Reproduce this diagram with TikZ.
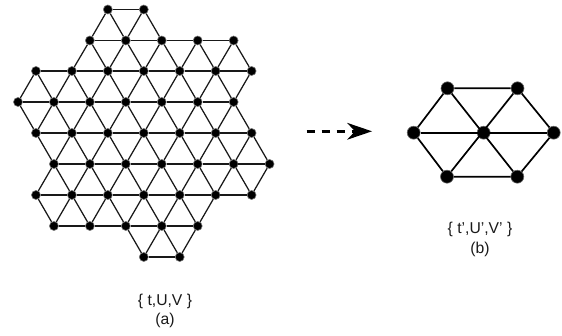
\documentclass[tikz,border=0pt]{standalone}
\usepackage{fontspec}
\setmainfont{Liberation Sans}
\usetikzlibrary{arrows.meta}
\tikzset{
  smalldot/.style={circle,fill=black,draw=black!55,line width=0.6pt,inner sep=0pt,minimum size=9pt},
  bigdot/.style={circle,fill=black,draw=black!60,line width=0.6pt,inner sep=0pt,minimum size=13pt},
  latticeedge/.style={line width=1.25pt,black!90},
  hexedge/.style={line width=1.7pt,black},
  caption/.style={inner sep=0pt,font=\fontsize{15.7}{18}\selectfont,text=black!90},
  mapsto/.style={line width=2.8pt,dash pattern=on 8pt off 7pt,-{Stealth[length=25pt,width=17pt,inset=8pt,line width=0pt]}}
}
\newcommand{\tryedge}[3]{%
  \ifcsname pgf@sh@ns@n#1-#2\endcsname
    \draw[latticeedge] (#3) -- (n#1-#2);
  \fi}
\begin{document}
\begin{tikzpicture}[x=1pt,y=-1pt]
\useasboundingbox (0,0) rectangle (562,336);
% left lattice: column index k gives x = 18 + 18k
\foreach \r/\y/\cols in {
  0/9.5/{5,7},
  1/40.5/{4,6,8,10,12},
  2/71/{1,3,5,7,9,11,13},
  3/102/{0,2,4,6,8,10,12},
  4/133/{1,3,5,7,9,11,13},
  5/164/{2,4,6,8,10,12,14},
  6/195/{1,3,5,7,9,11,13},
  7/226/{2,4,6,8,10},
  8/257/{7,9}}{
  \foreach \k in \cols {
    \node[smalldot] (n\r-\k) at ({18+17.97*\k},\y) {};
  }
}
\foreach \r/\cols in {
  0/{5,7},
  1/{4,6,8,10,12},
  2/{1,3,5,7,9,11,13},
  3/{0,2,4,6,8,10,12},
  4/{1,3,5,7,9,11,13},
  5/{2,4,6,8,10,12,14},
  6/{1,3,5,7,9,11,13},
  7/{2,4,6,8,10},
  8/{7,9}}{
  \foreach \k in \cols {
    \pgfmathtruncatemacro{\nr}{\r+1}
    \pgfmathtruncatemacro{\ka}{\k+2}
    \pgfmathtruncatemacro{\kb}{\k-1}
    \pgfmathtruncatemacro{\kc}{\k+1}
    \tryedge{\r}{\ka}{n\r-\k}
    \tryedge{\nr}{\kb}{n\r-\k}
    \tryedge{\nr}{\kc}{n\r-\k}
  }
}
% right hexagon
\node[bigdot] (c) at (483.7,132.7) {};
\node[bigdot] (l) at (413.7,132.7) {};
\node[bigdot] (r) at (553.7,132.7) {};
\node[bigdot] (tl) at (447.5,88.3) {};
\node[bigdot] (tr) at (517.5,88.3) {};
\node[bigdot] (bl) at (447.0,176.7) {};
\node[bigdot] (br) at (517.3,176.7) {};
\draw[hexedge] (tl) -- (tr) -- (r) -- (br) -- (bl) -- (l) -- (tl);
\draw[hexedge] (l) -- (r);
\draw[hexedge] (tl) -- (br);
\draw[hexedge] (tr) -- (bl);
% arrow
\coordinate (as) at (306.7,131.3);
\coordinate (ae) at (372,131.3);
\draw[mapsto] (as) -- (ae);
% captions
\node[caption] (capa) at (165,301.2) {\{ t,U,V \}};
\node[caption] (laba) at (165,320.5) {(a)};
\node[caption] (capb) at (480,229.5) {\{ t',U',V' \}};
\node[caption] (labb) at (480,249.5) {(b)};
\end{tikzpicture}
\end{document}
